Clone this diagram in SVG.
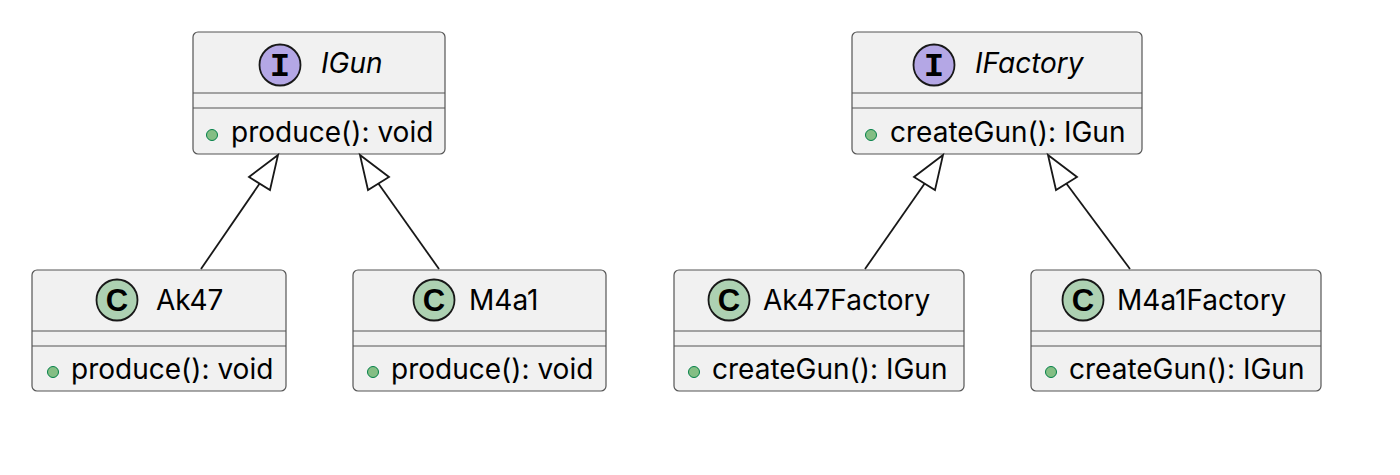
<svg xmlns="http://www.w3.org/2000/svg" width="1400" height="475" viewBox="0 0 1400 475">
<defs>
<style>
.box{fill:#F1F1F1;stroke:#555;stroke-width:1.2}
.sep{stroke:#555;stroke-width:1.2}
.ci{fill:#B4A7E5;stroke:#181818;stroke-width:1.8}
.cc{fill:#ADD1B2;stroke:#181818;stroke-width:1.8}
.name{font-family:Inter,"Liberation Sans",sans-serif;font-size:28px;fill:#000}
.iname{font-family:Inter,"Liberation Sans",sans-serif;font-size:28px;font-style:italic;fill:#000}
.mem{font-family:Inter,"Liberation Sans",sans-serif;font-size:28px;fill:#000}
.bul{fill:#84BE84;stroke:#038048;stroke-width:1}
.gl{font-family:"Liberation Mono",monospace;font-weight:bold;font-size:34px;text-anchor:middle;fill:#000}
.gc{font-family:"Liberation Sans",sans-serif;font-weight:bold;font-size:31px;text-anchor:middle;fill:#000}
.edge{stroke:#181818;stroke-width:1.8;fill:none}
.head{fill:#fff;stroke:#181818;stroke-width:1.8}
</style>
</defs>
<rect width="1400" height="475" fill="#fff"/>
<g id="IGun">
<rect class="box" x="193" y="32" width="252" height="122" rx="5"/>
<line class="sep" x1="193" y1="93" x2="445" y2="93"/>
<line class="sep" x1="193" y1="108" x2="445" y2="108"/>
<circle class="ci" cx="280" cy="65" r="20.5"/>
<text class="gl" x="280" y="76">I</text>
<text class="iname" x="321" y="73">IGun</text>
<circle class="bul" cx="212" cy="135" r="5.5"/>
<text class="mem" x="231" y="142">produce(): void</text>
</g>
<g id="IFactory">
<rect class="box" x="852" y="32" width="290" height="122" rx="5"/>
<line class="sep" x1="852" y1="93" x2="1142" y2="93"/>
<line class="sep" x1="852" y1="108" x2="1142" y2="108"/>
<circle class="ci" cx="934" cy="65" r="20.5"/>
<text class="gl" x="934" y="76">I</text>
<text class="iname" x="975" y="73">IFactory</text>
<circle class="bul" cx="871" cy="135" r="5.5"/>
<text class="mem" x="890" y="142">createGun(): IGun</text>
</g>
<g id="Ak47">
<rect class="box" x="32" y="270" width="254" height="121" rx="5"/>
<line class="sep" x1="32" y1="331" x2="286" y2="331"/>
<line class="sep" x1="32" y1="346" x2="286" y2="346"/>
<circle class="cc" cx="117" cy="300" r="20.5"/>
<text class="gc" x="117" y="311">C</text>
<text class="name" x="156" y="310">Ak47</text>
<circle class="bul" cx="53" cy="372" r="5.5"/>
<text class="mem" x="71" y="379">produce(): void</text>
</g>
<g id="M4a1">
<rect class="box" x="353" y="270" width="253" height="121" rx="5"/>
<line class="sep" x1="353" y1="331" x2="606" y2="331"/>
<line class="sep" x1="353" y1="346" x2="606" y2="346"/>
<circle class="cc" cx="434" cy="300" r="20.5"/>
<text class="gc" x="434" y="311">C</text>
<text class="name" x="469" y="310">M4a1</text>
<circle class="bul" cx="373" cy="372" r="5.5"/>
<text class="mem" x="391" y="379">produce(): void</text>
</g>
<g id="Ak47Factory">
<rect class="box" x="674" y="270" width="290" height="121" rx="5"/>
<line class="sep" x1="674" y1="331" x2="964" y2="331"/>
<line class="sep" x1="674" y1="346" x2="964" y2="346"/>
<circle class="cc" cx="729" cy="300" r="20.5"/>
<text class="gc" x="729" y="311">C</text>
<text class="name" x="763" y="310">Ak47Factory</text>
<circle class="bul" cx="694" cy="372" r="5.5"/>
<text class="mem" x="712" y="379">createGun(): IGun</text>
</g>
<g id="M4a1Factory">
<rect class="box" x="1031" y="270" width="290" height="121" rx="5"/>
<line class="sep" x1="1031" y1="331" x2="1321" y2="331"/>
<line class="sep" x1="1031" y1="346" x2="1321" y2="346"/>
<circle class="cc" cx="1083" cy="300" r="20.5"/>
<text class="gc" x="1083" y="311">C</text>
<text class="name" x="1117" y="310">M4a1Factory</text>
<circle class="bul" cx="1051" cy="372" r="5.5"/>
<text class="mem" x="1069" y="379">createGun(): IGun</text>
</g>
<g id="connectors">
<line class="edge" x1="201" y1="269" x2="260" y2="183"/>
<polygon class="head" points="278,155 249,177 270,190"/>
<line class="edge" x1="439" y1="269" x2="378" y2="183"/>
<polygon class="head" points="360,155 368,190 389,177"/>
<line class="edge" x1="865" y1="269" x2="925" y2="183"/>
<polygon class="head" points="943,155 914,177 935,190"/>
<line class="edge" x1="1130" y1="269" x2="1066" y2="183"/>
<polygon class="head" points="1048,155 1056,190 1077,177"/>
</g>
</svg>
